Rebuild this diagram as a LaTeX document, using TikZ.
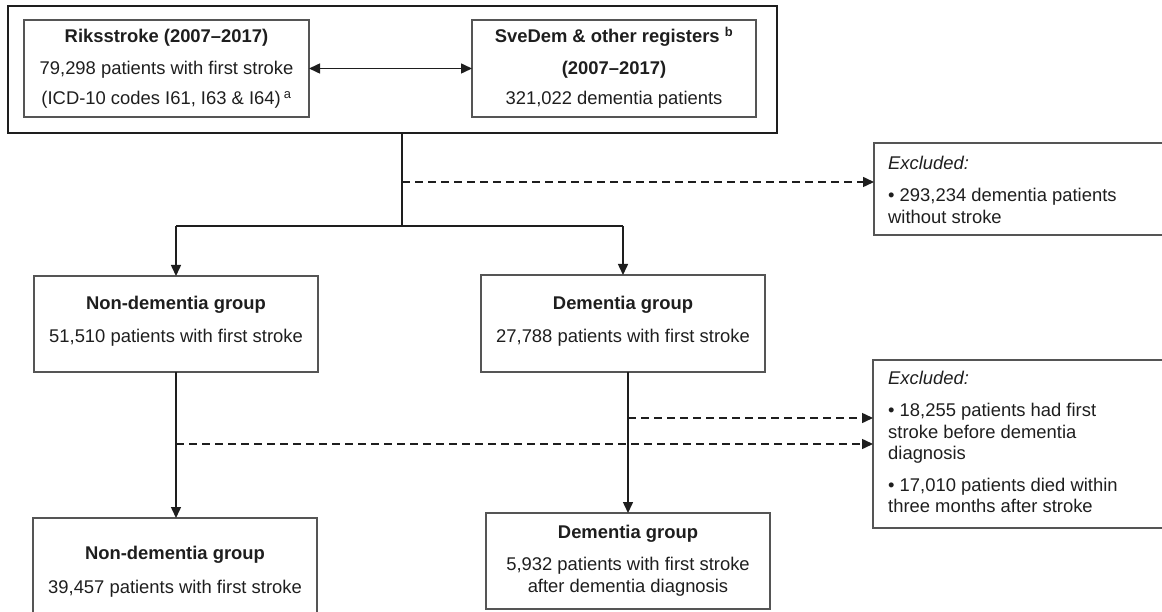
\documentclass[tikz,border=0pt]{standalone}
\usepackage{fontspec}
\setmainfont{Liberation Sans}
\usetikzlibrary{arrows.meta}
\definecolor{ink}{HTML}{1E1E1E}
\definecolor{boxline}{HTML}{555555}
\begin{document}
\begin{tikzpicture}[x=1pt,y=-1pt,
  font=\fontsize{18.4}{21.5}\selectfont,
  box/.style={draw=boxline, line width=1.2pt, anchor=north west, inner sep=0pt, outer sep=0pt},
  outerbox/.style={draw=ink, line width=2pt, anchor=north west, inner sep=0pt, outer sep=0pt},
  txt/.style={anchor=base, inner sep=0pt, text=ink},
  ltxt/.style={anchor=base west, inner sep=0pt, text=ink},
  conn/.style={draw=ink, line width=1.5pt},
  arr/.style={conn, -{Triangle[length=11pt,width=10pt]}},
  darr/.style={conn, dash pattern=on 8pt off 5pt, -{Triangle[length=11pt,width=10pt]}},
  dblarr/.style={conn, {Triangle[length=11pt,width=10pt]}-{Triangle[length=11pt,width=10pt]}}
]
\path[use as bounding box] (0,0) rectangle (1162,612);
\clip (0,0) rectangle (1162,612);

% boxes
\node[outerbox, minimum width=769pt, minimum height=127pt] (outer) at (8,6) {};
\node[box, minimum width=285pt, minimum height=97pt] (rik) at (24,20) {};
\node[box, minimum width=284pt, minimum height=97pt] (sve) at (472,20) {};
\node[box, minimum width=300pt, minimum height=92pt] (ex1) at (874,143) {};
\node[box, minimum width=284pt, minimum height=96pt] (nd1) at (34,276) {};
\node[box, minimum width=284pt, minimum height=97pt] (dg1) at (481,275) {};
\node[box, minimum width=300pt, minimum height=168pt] (ex2) at (873,360) {};
\node[box, minimum width=284pt, minimum height=100pt] (nd2) at (33,518) {};
\node[box, minimum width=284pt, minimum height=96pt] (dg2) at (486,513) {};

% texts
\node[txt] (rikA) at (166.5,43) {\bfseries Riksstroke (2007–2017)};
\node[txt] (rikB) at (166.5,75) {79,298 patients with first stroke};
\node[txt] (rikC) at (166.5,105) {(ICD-10 codes I61, I63 \& I64)\,\textsuperscript{a}};

\node[txt] (sveA) at (614,43) {\bfseries SveDem \& other registers \textsuperscript{b}};
\node[txt] (sveB) at (614,75) {\bfseries (2007–2017)};
\node[txt] (sveC) at (614,105) {321,022 dementia patients};

\node[ltxt] (ex1A) at (888,169.5) {\itshape Excluded:};
\node[ltxt] (ex1B) at (888,201.5) {• 293,234 dementia patients};
\node[ltxt] (ex1C) at (888,223.5) {without stroke};

\node[txt] (nd1A) at (176,309.5) {\bfseries Non-dementia group};
\node[txt] (nd1B) at (176,342.5) {51,510 patients with first stroke};

\node[txt] (dg1A) at (623,309.5) {\bfseries Dementia group};
\node[txt] (dg1B) at (623,342.5) {27,788 patients with first stroke};

\node[ltxt] (ex2A) at (888,384.5) {\itshape Excluded:};
\node[ltxt] (ex2B) at (888,416.5) {• 18,255 patients had first};
\node[ltxt] (ex2C) at (888,438.5) {stroke before dementia};
\node[ltxt] (ex2D) at (888,459.5) {diagnosis};
\node[ltxt] (ex2E) at (888,491.5) {• 17,010 patients died within};
\node[ltxt] (ex2F) at (888,512.5) {three months after stroke};

\node[txt] (nd2A) at (175,559.5) {\bfseries Non-dementia group};
\node[txt] (nd2B) at (175,593.5) {39,457 patients with first stroke};

\node[txt] (dg2A) at (628,538.5) {\bfseries Dementia group};
\node[txt] (dg2B) at (628,570.5) {5,932 patients with first stroke};
\node[txt] (dg2C) at (628,592.5) {after dementia diagnosis};

% connectors
\draw[dblarr] (rik) -- (sve);

\coordinate (split) at (402,226);
\coordinate (cutA) at (402,182);
\draw[conn] (outer.south -| split) -- (split);
\draw[darr] (cutA) -- (ex1.west |- cutA);
\draw[conn] (nd1.north |- split) -- (dg1.north |- split);
\draw[arr] (nd1.north |- split) -- (nd1.north);
\draw[arr] (dg1.north |- split) -- (dg1.north);

\draw[arr] (nd1.south) -- (nd1.south |- nd2.north);
\draw[arr] (dg2.north |- dg1.south) -- (dg2.north);

\coordinate (cutB) at (628,418);
\coordinate (cutC) at (176,444);
\draw[darr] (cutB) -- (ex2.west |- cutB);
\draw[darr] (cutC) -- (ex2.west |- cutC);
\end{tikzpicture}
\end{document}
